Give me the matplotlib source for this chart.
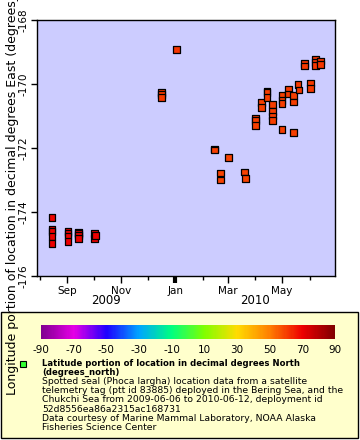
import pandas as pd
import matplotlib
matplotlib.use("Agg")
import matplotlib.pyplot as plt
import matplotlib.dates as mdates
import matplotlib.transforms as mtransforms
from matplotlib.colors import LinearSegmentedColormap, Normalize
from matplotlib.patches import Rectangle
from matplotlib.lines import Line2D

plt.rcParams["axes.unicode_minus"] = False

# satellite fixes
fix_dates = (["2009-08-15"] * 5 + ["2009-09-02"] * 4 + ["2009-09-14"] * 4
             + ["2009-10-02"] * 2 + ["2009-10-03"]
             + ["2009-12-16"] * 3 + ["2010-01-02"]
             + ["2010-02-14"] * 2 + ["2010-02-21"] * 2 + ["2010-03-02"]
             + ["2010-03-20", "2010-03-21"]
             + ["2010-04-01"] * 3 + ["2010-04-08"] * 2 + ["2010-04-14"] * 3
             + ["2010-04-20"] * 4 + ["2010-05-01"] * 4 + ["2010-05-08"] * 2
             + ["2010-05-14"] * 3 + ["2010-05-19", "2010-05-20"]
             + ["2010-05-26"] * 2 + ["2010-06-02"] * 2 + ["2010-06-08"] * 3
             + ["2010-06-13"] * 2)
lon_east = [-174.18, -174.54, -174.62, -174.77, -174.98,
            -174.62, -174.67, -174.75, -174.93,
            -174.63, -174.67, -174.74, -174.82,
            -174.67, -174.84, -174.74,
            -170.26, -170.32, -170.43, -168.91,
            -172.03, -172.06, -172.78, -173.00, -172.30,
            -172.75, -172.95,
            -171.08, -171.15, -171.29, -170.58, -170.74, -170.22, -170.27, -170.42,
            -170.65, -170.87, -171.00, -171.13, -170.35, -170.52, -170.62, -171.43,
            -170.16, -170.31, -170.37, -170.56, -171.52, -170.02, -170.19,
            -169.35, -169.44, -169.97, -170.15, -169.22, -169.32, -169.43,
            -169.28, -169.38]
lat_north = [69.6, 69.8, 69.9, 70.0, 70.1,
             69.8, 69.9, 70.0, 70.1,
             69.8, 69.9, 70.0, 70.1,
             69.9, 70.0, 70.0,
             61.0, 61.0, 61.1, 61.5,
             59.8, 59.8, 59.5, 59.4, 59.7,
             59.6, 59.5,
             60.0, 60.0, 59.9, 60.3, 60.2, 60.5, 60.4, 60.3,
             60.2, 60.1, 60.0, 60.0, 60.4, 60.3, 60.2, 59.9,
             60.6, 60.5, 60.4, 60.3, 59.9, 60.7, 60.6,
             61.2, 61.1, 60.8, 60.7, 61.4, 61.3, 61.2,
             61.3, 61.2]

month_ticks = ["2009-09-01", "2009-11-01", "2010-01-01", "2010-03-01", "2010-05-01"]
month_labels = ["Sep", "Nov", "Jan", "Mar", "May"]
years = ["2009", "2010"]
cbar_ticks = [-90, -70, -50, -30, -10, 10, 30, 50, 70, 90]

legend_title = ["Latitude portion of location in decimal degrees North",
                "(degrees_north)"]
legend_lines = ["Spotted seal (Phoca largha) location data from a satellite",
                "telemetry tag (ptt id 83885) deployed in the Bering Sea, and the",
                "Chukchi Sea from 2009-06-06 to 2010-06-12, deployment id",
                "52d8556ea86a2315ac168731",
                "Data courtesy of Marine Mammal Laboratory, NOAA Alaska",
                "Fisheries Science Center"]

rainbow = LinearSegmentedColormap.from_list("erddap_rainbow", [
    "#800090", "#E600E6", "#1E00FF", "#00A5FF", "#00FF7F",
    "#7FFF00", "#FFDC00", "#FF8000", "#EE0000", "#800000"])

W, H = 360, 440
fig = plt.figure(figsize=(3.6, 4.4), dpi=100)
fig.patch.set_facecolor("white")

# legend box behind everything
fig.patches.append(Rectangle((1 / W, 1 - 438 / H), 357 / W, 126 / H,
                             transform=fig.transFigure, facecolor="#FFFFCC",
                             edgecolor="black", lw=1, zorder=-5))

ax = fig.add_axes([37 / W, 1 - 276 / H, 298 / W, 256 / H])
ax.set_facecolor("#CCCCFF")

x = mdates.date2num(pd.to_datetime(fix_dates))
ax.scatter(x, lon_east, c=lat_north, cmap=rainbow, vmin=-90, vmax=90,
           marker="s", s=24, edgecolors="black", linewidths=0.9, zorder=3)

xmin = mdates.date2num(pd.Timestamp("2009-07-29 03:00"))
xmax = mdates.date2num(pd.Timestamp("2010-06-29 14:00"))
ax.set_xlim(xmin, xmax)
ax.set_ylim(-176, -168)

ax.set_xticks(mdates.date2num(pd.to_datetime(month_ticks)))
ax.set_xticklabels(month_labels, fontsize=7.5)
ax.xaxis.set_minor_locator(mdates.MonthLocator())
ax.tick_params(axis="x", which="major", length=5, width=1, pad=2)
ax.tick_params(axis="x", which="minor", length=3, width=1)
ax.xaxis.get_major_ticks()[2].tick1line.set_markeredgewidth(3)

ax.set_yticks([-176, -174, -172, -170, -168])
ax.set_yticklabels(["-176", "-174", "-172", "-170", "-168"], fontsize=7.5,
                   rotation=90, va="center")
ax.tick_params(axis="y", length=4, width=1, pad=2)
for s in ax.spines.values():
    s.set_linewidth(1)

# year labels centred under each year's part of the axis
yr_edges = [xmin, mdates.date2num(pd.Timestamp("2010-01-01")), xmax]
yr_trans = mtransforms.blended_transform_factory(ax.transData, fig.transFigure)
for i, yr in enumerate(years):
    ax.text((yr_edges[i] + yr_edges[i + 1]) / 2, 1 - 301 / H, yr,
            transform=yr_trans, ha="center", va="center", fontsize=8.5)

fig.text(12.5 / W, 1 - 395 / H,
         "Longitude portion of location in decimal degrees East (degrees_east)",
         rotation=90, ha="center", va="bottom", fontsize=9, zorder=5)

# colour bar
cax = fig.add_axes([41 / W, 1 - 339 / H, 294 / W, 14 / H])
sm = matplotlib.cm.ScalarMappable(cmap=rainbow, norm=Normalize(-90, 90))
cb = fig.colorbar(sm, cax=cax, orientation="horizontal")
cb.outline.set_visible(False)
cb.set_ticks(cbar_ticks)
cb.set_ticklabels([str(v) for v in cbar_ticks])
cb.ax.tick_params(length=0, pad=4, labelsize=7.5)

# legend marker and text
fig.add_artist(Line2D([22.5 / W], [1 - 364 / H], marker="s", markersize=5,
                      markerfacecolor="#33FF33", markeredgecolor="black",
                      markeredgewidth=0.8, transform=fig.transFigure))
y0 = 363
for i, t in enumerate(legend_title):
    fig.text(42 / W, 1 - (y0 + 9 * i) / H, t, fontsize=6.1, fontweight="bold",
             ha="left", va="center")
for i, t in enumerate(legend_lines):
    fig.text(42 / W, 1 - (y0 + 18.7 + 9.1 * i) / H, t, fontsize=6.7,
             ha="left", va="center")

fig.savefig("out.png", dpi=100)
